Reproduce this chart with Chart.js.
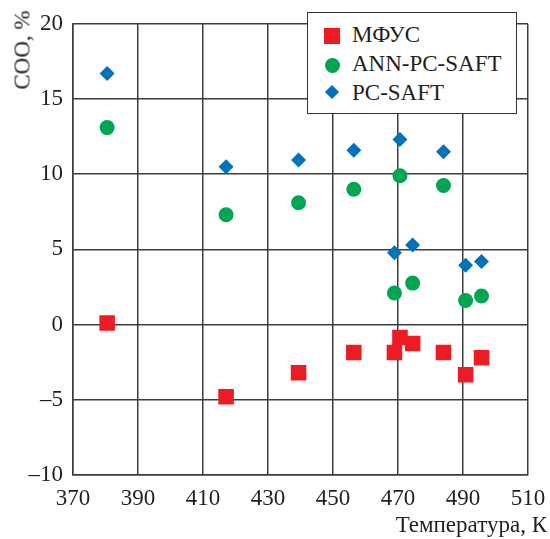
<!DOCTYPE html>
<html>
<head>
<meta charset="utf-8">
<script src="https://cdn.jsdelivr.net/npm/chart.js@4/dist/chart.umd.min.js"></script>
<style>
  body { margin: 0; background: #fff; }
  #wrap { position: relative; width: 550px; height: 539px; color: #231f20; }
  #chart { position: absolute; left: 0; top: 0; }
  .txt { position: absolute; font-family: 'Liberation Serif'; font-size: 23px; line-height: 23px; white-space: nowrap; }
  #ytitle { left: 22px; top: 50px; transform: translate(-50%, -50%) rotate(-90deg); }
  #xtitle { right: 3px; top: 513px; }
  #legend { position: absolute; left: 307px; top: 12px; width: 208px; height: 100px; border: 1.5px solid #333; background: #fff; }
  .mk { position: absolute; }
</style>
</head>
<body>
<div id="wrap">
  <canvas id="chart" width="550" height="539"></canvas>
  <div class="txt" id="ytitle">СОО, %</div>
  <div class="txt" id="xtitle">Температура, К</div>
  <div id="legend"></div>
  <div class="mk" style="left:324px;top:28px;width:16px;height:16px;background:#ed1c24"></div>
  <div class="txt" style="left:352px;top:23px">МФУС</div>
  <div class="mk" style="left:324.5px;top:57.5px;width:15px;height:15px;border-radius:50%;background:#00a651"></div>
  <div class="txt" style="left:352px;top:52px">ANN-PC-SAFT</div>
  <div class="mk" style="left:327px;top:87px;width:10px;height:10px;transform:rotate(45deg);background:#0072bc"></div>
  <div class="txt" style="left:352px;top:80.5px">PC-SAFT</div>
</div>
<script>
const TEMPERATURES = [380.5, 417.1, 439.4, 456.4, 468.9, 470.6, 474.5, 484.0, 490.8, 495.7];
const MFUS        = [0.1, -4.8, -3.2, -1.85, -1.85, -0.86, -1.26, -1.85, -3.33, -2.2];
const ANN_PCSAFT  = [13.1, 7.3, 8.1, 9.0, 2.1, 9.9, 2.76, 9.25, 1.6, 1.9];
const PCSAFT      = [16.7, 10.5, 10.95, 11.6, 4.77, 12.3, 5.3, 11.5, 3.95, 4.2];
const X_MIN = 370, X_MAX = 510, X_STEP = 20;
const Y_MIN = -10, Y_MAX = 20, Y_STEP = 5;

const FONT = { family: 'Liberation Serif', size: 23 };
const INK  = '#231f20';
const GRID = '#3c3c3c';

function toPoints(ys) {
  return TEMPERATURES.map((t, i) => ({ x: t, y: ys[i] }));
}

function draw() {
  const ctx = document.getElementById('chart').getContext('2d');
  new Chart(ctx, {
    type: 'scatter',
    data: {
      datasets: [{
        label: 'МФУС',
        data: toPoints(MFUS),
        pointStyle: 'rect',
        pointRadius: 11,
        backgroundColor: '#ed1c24',
        borderWidth: 0
      }, {
        label: 'ANN-PC-SAFT',
        data: toPoints(ANN_PCSAFT),
        pointStyle: 'circle',
        pointRadius: 7.5,
        backgroundColor: '#00a651',
        borderWidth: 0
      }, {
        label: 'PC-SAFT',
        data: toPoints(PCSAFT),
        pointStyle: 'rectRot',
        pointRadius: 7.5,
        backgroundColor: '#0072bc',
        borderWidth: 0
      }]
    },
    options: {
      responsive: false,
      animation: false,
      layout: { padding: { left: 0, right: 22, top: 22, bottom: 0 } },
      plugins: {
        legend: { display: false },
        tooltip: { enabled: false }
      },
      scales: {
        x: {
          type: 'linear',
          min: X_MIN,
          max: X_MAX,
          // fixed height, and let the last label hang into the right margin
          afterFit: s => { s.height = 64; s.paddingLeft = 0; s.paddingRight = 0; },
          grid: { color: GRID, lineWidth: 1.5, drawTicks: false },
          border: { color: GRID, width: 1.5 },
          ticks: {
            stepSize: X_STEP,
            padding: 10,
            color: INK,
            font: FONT,
            maxRotation: 0
          }
        },
        y: {
          type: 'linear',
          min: Y_MIN,
          max: Y_MAX,
          afterFit: s => { s.width = 73; },
          grid: { color: GRID, lineWidth: 1.5, drawTicks: false },
          border: { color: GRID, width: 1.5 },
          ticks: {
            stepSize: Y_STEP,
            padding: 10,
            color: INK,
            font: FONT,
            callback: v => String(v).replace('-', '\u2013')
          }
        }
      }
    }
  });
}

// make sure the serif face is ready before the canvas text is drawn
document.fonts.load("23px 'Liberation Serif'").then(draw, draw);
</script>
</body>
</html>
